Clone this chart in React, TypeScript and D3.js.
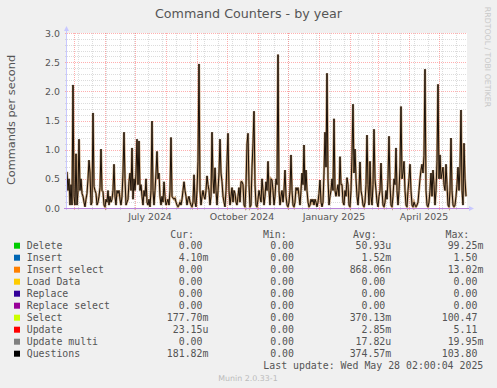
import React from "react";
import * as d3 from "d3";

// daily "Questions" rate (commands/s), one value per day from 2024-04-24
const questions = [
  0.62, 0.3, 0.5, 0.05, 0.4, 0.05, 2.11, 0.2, 0.05, 0.93, 0.05, 0.3, 1.18, 0.3, 0.5, 0.25, 0.2, 0.1, 0.02, 0.15,
  0.25, 0.5, 0.82, 0.6, 0.05, 0.1, 1.63, 0.37, 0.3, 0.25, 0.05, 0.1, 0.2, 0.35, 1.01, 0.3, 0.28, 0.05, 0.02, 0.15,
  0.1, 0.3, 0.05, 0.2, 0.1, 0.15, 0.3, 0.75, 0.2, 0.05, 0.3, 0.25, 0.3, 0.15, 0.05, 0.2, 0.6, 1.3, 0.5, 0.05,
  0.1, 0.15, 0.45, 0.6, 0.3, 1.03, 0.15, 0.5, 0.3, 0.6, 1.18, 0.4, 1.15, 0.3, 0.4, 0.2, 0.05, 0.3, 0.2, 0.5,
  0.1, 0.05, 0.15, 0.02, 0.3, 1.49, 0.3, 0.05, 0.3, 0.6, 0.97, 0.5, 0.6, 0.2, 0.05, 0.2, 0.1, 0.45, 0.2, 0.05,
  0.1, 0.15, 0.05, 0.3, 1.21, 0.2, 0.17, 0.15, 0.17, 0.1, 0.05, 0.02, 0.05, 0.1, 0.05, 0.15, 0.3, 0.45, 0.3, 0.2,
  0.05, 0.15, 0.2, 0.1, 0.05, 0.02, 0.1, 0.57, 0.1, 0.02, 0.3, 0.8, 2.47, 0.3, 0.05, 0.2, 0.3, 0.2, 0.15, 0.3,
  0.55, 0.4, 0.3, 0.05, 0.2, 1.3, 0.5, 0.25, 0.69, 0.3, 0.05, 0.3, 0.6, 1.18, 0.6, 0.45, 0.2, 0.1, 0.02, 0.3,
  0.8, 1.28, 0.3, 0.05, 0.2, 0.35, 0.1, 0.3, 0.25, 0.1, 0.05, 0.2, 0.35, 0.1, 0.45, 0.45, 0.4, 0.05, 0.02, 0.4,
  1.1, 1.28, 0.4, 0.02, 0.05, 0.7, 1.1, 1.66, 0.4, 0.05, 0.02, 0.15, 0.3, 0.2, 0.1, 0.5, 0.3, 0.05, 0.2, 0.45,
  0.3, 0.8, 0.3, 0.05, 0.5, 0.48, 0.3, 0.05, 0.2, 0.5, 0.4, 2.63, 0.3, 0.05, 0.2, 0.3, 0.1, 0.3, 0.65, 0.2,
  0.05, 0.02, 0.1, 0.3, 0.91, 0.3, 0.05, 0.02, 0.1, 0.35, 0.3, 0.35, 0.2, 0.05, 0.3, 0.6, 0.4, 1.08, 0.3, 0.65,
  0.3, 0.1, 0.02, 0.05, 0.15, 0.1, 0.15, 0.05, 0.15, 0.1, 0.02, 0.1, 0.25, 0.48, 0.1, 0.02, 0.1, 0.6, 1.3, 0.7,
  2.31, 0.5, 0.05, 0.2, 0.3, 0.5, 0.3, 1.53, 0.3, 0.2, 0.3, 0.4, 0.2, 0.88, 0.4, 0.4, 0.1, 0.05, 0.3, 0.2,
  0.52, 0.4, 0.05, 0.02, 0.3, 0.9, 1.78, 0.6, 1.01, 0.5, 0.2, 0.05, 0.3, 0.79, 0.3, 0.2, 0.05, 0.02, 0.1, 0.4,
  1.25, 0.4, 0.05, 0.8, 0.2, 0.05, 0.4, 1.35, 0.5, 0.3, 0.1, 0.02, 0.2, 0.3, 0.77, 0.3, 0.05, 0.02, 0.1, 0.3,
  0.15, 0.5, 1.23, 0.4, 0.05, 0.02, 0.2, 0.5, 0.4, 1.03, 0.3, 0.05, 0.3, 0.7, 1.74, 0.5, 0.6, 0.8, 0.3, 0.05,
  0.02, 0.3, 0.5, 0.75, 0.3, 0.05, 0.02, 0.1, 0.05, 0.02, 0.05, 0.1, 0.3, 0.5, 0.65, 0.75, 0.6, 0.9, 2.38, 0.3,
  0.05, 0.02, 0.1, 0.3, 0.6, 0.2, 0.65, 0.4, 0.05, 0.3, 0.8, 2.12, 0.5, 0.91, 0.5, 0.6, 0.7, 0.4, 0.3, 0.75,
  0.4, 0.05, 0.02, 0.3, 1.2, 0.3, 0.05, 0.02, 0.05, 0.2, 0.4, 0.7, 0.3, 0.7, 1.68, 0.3, 0.05, 1.11, 0.5, 0.2,
];

const yTicks = [0, 0.5, 1, 1.5, 2, 2.5, 3];
const yTickLabels = ["0.0", "0.5", "1.0", "1.5", "2.0", "2.5", "3.0"];

const legendNames = [
  "Delete", "Insert", "Insert select", "Load Data", "Replace",
  "Replace select", "Select", "Update", "Update multi", "Questions",
];
const legendColors = [
  "#00cc00", "#0066b3", "#ff8000", "#ffcc00", "#330099",
  "#990099", "#ccff00", "#ff0000", "#808080", "#000000",
];
const curVals = ["0.00", "4.10m", "0.00", "0.00", "0.00", "0.00", "177.70m", "23.15u", "0.00", "181.82m"];
const minVals = ["0.00", "0.00", "0.00", "0.00", "0.00", "0.00", "0.00", "0.00", "0.00", "0.00"];
const avgVals = ["50.93u", "1.52m", "868.06n", "0.00", "0.00", "0.00", "370.13m", "2.85m", "17.82u", "374.57m"];
const maxVals = ["99.25m", "1.50", "13.02m", "0.00", "0.00", "0.00", "100.47", "5.11", "19.95m", "103.80"];

const startDate = new Date(Date.UTC(2024, 3, 24));
const endDate = new Date(Date.UTC(2025, 4, 29));

const W = 497;
const H = 388;
const L = 67, R = 467, T = 33, B = 208;

const sans = "'DejaVu Sans', sans-serif";
const mono = "'DejaVu Sans Mono', monospace";

const splitUnit = (s: string) => {
  const last = s[s.length - 1];
  return /[a-z]/i.test(last) ? [s.slice(0, -1), last] : [s, ""];
};

const App = () => {
  const x = d3.scaleUtc().domain([startDate, endDate]).range([L, R]);
  const y = d3.scaleLinear().domain([0, 3]).range([B, T]);
  const px = (v: number) => Math.round(v) + 0.5;

  const months = d3.utcMonth.range(startDate, endDate);
  const quarters = months.filter((m) => m.getUTCMonth() % 3 === 0);
  const minor = d3.utcDay.range(new Date(Date.UTC(2024, 4, 5)), endDate, 14);
  const minorY = d3.range(0, 31).map((i) => i / 10).filter((v) => Math.round(v * 10) % 5 !== 0);

  const line = d3
    .line<number>()
    .x((d, i) => x(d3.utcDay.offset(startDate, i)))
    .y((d) => y(d));
  const path = line(questions) || "";

  // legend columns (right edge of the number part)
  const cols = [
    { head: "Cur:", headX: 194, numX: 202.5, vals: curVals },
    { head: "Min:", headX: 286.7, numX: 294, vals: minVals },
    { head: "Avg:", headX: 376.7, numX: 385.3, vals: avgVals },
    { head: "Max:", headX: 469.3, numX: 477.4, vals: maxVals },
  ];
  const fs = 9.9;

  return (
    <svg
      width={W}
      height={H}
      style={{ position: "absolute", left: 0, top: 0, display: "block" }}
    >
      <rect width={W} height={H} fill="#f0f0f0" />
      <rect x={L} y={T} width={R - L} height={B - T} fill="#ffffff" />

      {/* minor grid */}
      {minorY.map((v, i) => (
        <line key={"hy" + i} x1={L - 2} x2={R} y1={px(y(v))} y2={px(y(v))}
          stroke="#bababa" strokeOpacity={0.5} strokeDasharray="1,1" />
      ))}
      {minor.map((d, i) => (
        <line key={"hx" + i} x1={px(x(d))} x2={px(x(d))} y1={T} y2={B + 2}
          stroke="#bababa" strokeOpacity={0.5} strokeDasharray="1,1" />
      ))}
      {/* major grid */}
      {yTicks.map((v, i) => (
        <line key={"my" + i} x1={L - 2} x2={R} y1={px(y(v))} y2={px(y(v))}
          stroke="#ff5f5f" strokeOpacity={0.5} strokeDasharray="1,1" />
      ))}
      {months.map((d, i) => (
        <line key={"mx" + i} x1={px(x(d))} x2={px(x(d))} y1={T} y2={B + 2}
          stroke="#ff5f5f" strokeOpacity={0.5} strokeDasharray="1,1" />
      ))}

      {/* series */}
      <path d={path} fill="none" stroke="#b88a58" strokeWidth={2.4} strokeOpacity={0.8} strokeLinejoin="miter" />
      <path d={path} fill="none" stroke="#1a1008" strokeWidth={1} strokeLinejoin="miter" />

      {/* axes */}
      <line x1={L - 0.5} x2={L - 0.5} y1={B + 2} y2={T - 3} stroke="#c8c8ff" />
      <path d={`M${L - 3},${T - 2} L${L - 0.5},${T - 7} L${L + 2},${T - 2} Z`} fill="#c8c8ff" />
      <line x1={L - 3} x2={R + 3} y1={B + 0.5} y2={B + 0.5} stroke="#b985da" />
      <path d={`M${R + 2},${B - 2} L${R + 7},${B + 0.5} L${R + 2},${B + 3} Z`} fill="#c8c8ff" />

      {/* y tick labels */}
      {yTicks.map((v, i) => (
        <text key={"yl" + i} x={60} y={y(v) + 3.5} textAnchor="end" fontFamily={sans}
          fontSize={9.4} fill="#555">{yTickLabels[i]}</text>
      ))}
      {/* x labels */}
      {quarters.map((d, i) => (
        <text key={"xl" + i} x={x(d3.utcDay.offset(d, 15))} y={219.5} textAnchor="middle"
          fontFamily={sans} fontSize={9.4} fill="#555">
          {d3.utcFormat("%B %Y")(d)}
        </text>
      ))}

      {/* titles */}
      <text x={248.5} y={18} textAnchor="middle" fontFamily={sans} fontSize={12.7} fill="#555">
        Command Counters - by year
      </text>
      <text transform="translate(15,120) rotate(-90)" textAnchor="middle" fontFamily={sans}
        fontSize={11.3} fill="#555">Commands per second</text>
      <text transform="translate(485,57) rotate(90)" textAnchor="middle" fontFamily={sans}
        fontSize={7.8} fill="#c8c8c8">RRDTOOL / TOBI OETIKER</text>

      {/* legend */}
      {cols.map((c) => (
        <text key={c.head} x={c.headX} y={237.5} textAnchor="end" fontFamily={mono}
          fontSize={fs} fill="#555">{c.head}</text>
      ))}
      {legendNames.map((name, i) => {
        const by = 249.2 + 12 * i;
        return (
          <g key={name}>
            <rect x={14} y={by - 6.5} width={6} height={6} fill={legendColors[i]} />
            <text x={26.7} y={by} fontFamily={mono} fontSize={fs} fill="#555">{name}</text>
            {cols.map((c) => {
              const [num, unit] = splitUnit(c.vals[i]);
              return (
                <g key={c.head}>
                  <text x={c.numX} y={by} textAnchor="end" fontFamily={mono} fontSize={fs} fill="#555">{num}</text>
                  {unit && (
                    <text x={c.numX} y={by} fontFamily={mono} fontSize={fs} fill="#555">{unit}</text>
                  )}
                </g>
              );
            })}
          </g>
        );
      })}
      <text x={483.3} y={369.2} textAnchor="end" fontFamily={mono} fontSize={fs} fill="#555">
        Last update: Wed May 28 02:00:04 2025
      </text>
      <text x={248} y={380.5} textAnchor="middle" fontFamily={sans} fontSize={7.9} fill="#bbbbbb">
        Munin 2.0.33-1
      </text>
    </svg>
  );
};

export default App;
